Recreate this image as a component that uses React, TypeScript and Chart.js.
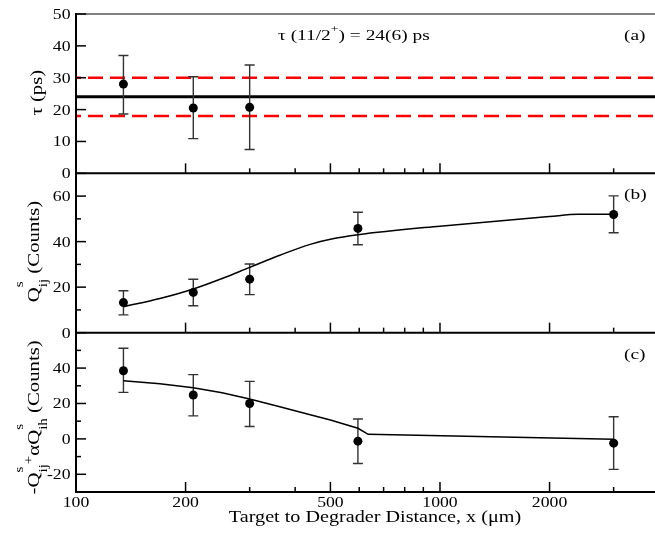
import React, { useEffect, useRef } from "react";
import { Chart, registerables } from "chart.js";

Chart.register(...registerables);

// ---------------- data ----------------
const distances = [135, 210, 300, 595, 3000];

const tauDistances = [135, 210, 300];
const tauValues = [28.0, 20.5, 20.7];
const tauLower = [18.6, 10.9, 7.5];
const tauUpper = [37.0, 30.3, 34.0];
const tauAdopted = [24];
const tauBounds = [18, 30];

const qValues = [13.2, 17.7, 23.5, 45.8, 51.9];
const qLower = [7.8, 11.8, 16.7, 38.6, 43.9];
const qUpper = [18.4, 23.5, 30.2, 52.9, 60.1];
const qFitX = [135, 170, 210, 252, 300, 363, 440, 500, 595, 1000, 2000, 2400, 3000];
const qFitY = [11.4, 15.0, 19.2, 23.8, 28.7, 34.0, 38.8, 41.0, 43.0, 46.8, 51.0, 52.0, 52.0];

const dValues = [38.5, 24.8, 20.0, -1.3, -2.4];
const dLower = [26.3, 13.0, 7.0, -13.9, -17.2];
const dUpper = [51.2, 36.3, 32.5, 11.2, 12.5];
const dFitX = [135, 170, 210, 252, 300, 363, 440, 500, 595, 635, 3000];
const dFitY = [32.9, 31.2, 28.9, 26.0, 22.5, 18.2, 13.6, 10.7, 6.0, 2.6, -0.2];

const xTicks = [100, 200, 300, 400, 500, 600, 700, 800, 900, 1000, 2000, 3000];
const xTickLabels = ["100", "200", "", "", "500", "", "", "", "", "1000", "2000", ""];
const xRange = [100, 3897];

const tauTicks = [0, 10, 20, 30, 40, 50];
const tauTickLabels = ["0", "10", "20", "30", "40", "50"];
const tauRange = [0, 50];
const qTicks = [0, 10, 20, 30, 40, 50, 60];
const qTickLabels = ["0", "", "20", "", "40", "", "60"];
const qRange = [0, 70];
const dTicks = [-20, -10, 0, 10, 20, 30, 40, 50];
const dTickLabels = ["-20", "", "0", "", "20", "", "40", ""];
const dRange = [-30, 60];

const xTitle = "Target to Degrader Distance, x (\u03bcm)";
const panelTags = ["(a)", "(b)", "(c)"];

// ---------------- drawing helpers ----------------
const FONT = "'Liberation Serif', 'Times New Roman', Times, serif";

type Run = { t: string; size?: number; dy?: number; stack?: boolean };

function drawRich(
  ctx: CanvasRenderingContext2D,
  runs: Run[],
  x: number,
  y: number,
  size: number,
  sx: number,
  align: "left" | "center" | "right",
  rot = 0
) {
  ctx.save();
  ctx.translate(x, y);
  if (rot) ctx.rotate(rot);
  ctx.scale(sx, 1);
  ctx.textBaseline = "alphabetic";
  ctx.textAlign = "left";
  ctx.fillStyle = "#000";
  const pos: number[] = [];
  let end = 0;
  let prevStart = 0;
  runs.forEach((r) => {
    ctx.font = `${r.size ?? size}px ${FONT}`;
    const w = ctx.measureText(r.t).width;
    const start = r.stack ? prevStart : end;
    pos.push(start);
    end = Math.max(end, start + w);
    prevStart = start;
  });
  const shift = align === "center" ? -end / 2 : align === "right" ? -end : 0;
  runs.forEach((r, i) => {
    ctx.font = `${r.size ?? size}px ${FONT}`;
    ctx.fillText(r.t, pos[i] + shift, r.dy ?? 0);
  });
  ctx.restore();
}

const titleA: Run[] = [{ t: "\u03c4 (ps)" }];
const titleB: Run[] = [
  { t: "Q" },
  { t: "s", size: 11.5, dy: -16 },
  { t: "ij", size: 11.5, dy: 7.5, stack: true },
  { t: " (Counts)" },
];
const titleC: Run[] = [
  { t: "-Q" },
  { t: "s", size: 11.5, dy: -16 },
  { t: "ij", size: 11.5, dy: 7.5, stack: true },
  { t: "+", size: 11.5, dy: -6 },
  { t: "\u03b1Q" },
  { t: "s", size: 11.5, dy: -16 },
  { t: "ih", size: 11.5, dy: 7.5, stack: true },
  { t: " (Counts)" },
];
const annotation: Run[] = [
  { t: "\u03c4 (11/2" },
  { t: "+", size: 11, dy: -8 },
  { t: ") = 24(6) ps" },
];

const panels = [
  { id: "ya", ticks: tauTicks, labels: tauTickLabels, title: titleA, base: 42, shift: -1 },
  { id: "yb", ticks: qTicks, labels: qTickLabels, title: titleB, base: 39, shift: -1.5 },
  { id: "yc", ticks: dTicks, labels: dTickLabels, title: titleC, base: 39, shift: 5 },
];

const framePlugin = {
  id: "frame",
  beforeDatasetsDraw(chart: any) {
    const { ctx, chartArea } = chart;
    const xs = chart.scales.x;
    const ya = chart.scales.ya;
    const yb = chart.scales.yb;
    const yc = chart.scales.yc;
    ctx.save();
    ctx.lineCap = "butt";
    // reference band of the adopted lifetime
    ctx.strokeStyle = "#ff0000";
    ctx.lineWidth = 2.5;
    ctx.setLineDash([15, 7]);
    ctx.lineDashOffset = 10;
    tauBounds.forEach((v) => {
      const y = ya.getPixelForValue(v);
      ctx.beginPath();
      ctx.moveTo(chartArea.left, y);
      ctx.lineTo(chartArea.right, y);
      ctx.stroke();
    });
    ctx.setLineDash([]);
    ctx.strokeStyle = "#000";
    ctx.lineWidth = 3;
    tauAdopted.forEach((v) => {
      const y = ya.getPixelForValue(v);
      ctx.beginPath();
      ctx.moveTo(chartArea.left, y);
      ctx.lineTo(chartArea.right, y);
      ctx.stroke();
    });
    // error bars
    ctx.strokeStyle = "#333";
    ctx.lineWidth = 1.4;
    const sets: [any, number[], number[], number[]][] = [
      [ya, tauDistances, tauLower, tauUpper],
      [yb, distances, qLower, qUpper],
      [yc, distances, dLower, dUpper],
    ];
    sets.forEach(([ys, xv, lo, hi]) => {
      xv.forEach((xx, i) => {
        const px = xs.getPixelForValue(xx);
        const y1 = ys.getPixelForValue(lo[i]);
        const y2 = ys.getPixelForValue(hi[i]);
        ctx.beginPath();
        ctx.moveTo(px, y1);
        ctx.lineTo(px, y2);
        ctx.moveTo(px - 5, y1);
        ctx.lineTo(px + 5, y1);
        ctx.moveTo(px - 5, y2);
        ctx.lineTo(px + 5, y2);
        ctx.stroke();
      });
    });
    ctx.restore();
  },
  afterDatasetsDraw(chart: any) {
    const { ctx, chartArea } = chart;
    const { left, right, top, bottom } = chartArea;
    const xs = chart.scales.x;
    ctx.save();
    ctx.setLineDash([]);
    // top border
    ctx.strokeStyle = "#808080";
    ctx.lineWidth = 2;
    ctx.beginPath();
    ctx.moveTo(left, top);
    ctx.lineTo(right, top);
    ctx.stroke();
    ctx.strokeStyle = "#000";
    panels.forEach((p, pi) => {
      const ys = chart.scales[p.id];
      // panel bottom line
      ctx.lineWidth = 2;
      ctx.beginPath();
      ctx.moveTo(left - 1, ys.bottom);
      ctx.lineTo(right, ys.bottom);
      ctx.stroke();
      // y ticks
      ctx.lineWidth = 1.5;
      p.ticks.forEach((v, i) => {
        const y = ys.getPixelForValue(v);
        const len = p.labels[i] ? 10 : 5;
        ctx.beginPath();
        ctx.moveTo(left, y);
        ctx.lineTo(left + len, y);
        ctx.stroke();
        if (p.labels[i]) {
          drawRich(ctx, [{ t: p.labels[i] }], left - 5.5, y + 5, 14.5, 1.22, "right");
        }
      });
      // x ticks along the panel bottom
      xTicks.forEach((v, i) => {
        const x = xs.getPixelForValue(v);
        const len = xTickLabels[i] ? 10 : 5;
        ctx.beginPath();
        ctx.moveTo(x, ys.bottom);
        ctx.lineTo(x, ys.bottom - len);
        ctx.stroke();
      });
      // axis title
      drawRich(ctx, p.title, p.base, (ys.top + ys.bottom) / 2 + p.shift, 16, 1.3, "center", -Math.PI / 2);
      // panel tag
      drawRich(ctx, [{ t: panelTags[pi] }], 624, ys.top + 26, 15.5, 1.25, "left");
    });
    // left axis
    ctx.lineWidth = 2;
    ctx.beginPath();
    ctx.moveTo(left, top - 1);
    ctx.lineTo(left, bottom + 1);
    ctx.stroke();
    // x tick labels
    xTicks.forEach((v, i) => {
      if (!xTickLabels[i]) return;
      drawRich(ctx, [{ t: xTickLabels[i] }], xs.getPixelForValue(v), bottom + 15, 14.5, 1.22, "center");
    });
    // x title
    drawRich(ctx, [{ t: xTitle }], (left + right) / 2 + 9.5, bottom + 30, 16, 1.26, "center");
    // annotation
    drawRich(ctx, annotation, 278, chart.scales.ya.top + 25.5, 15.5, 1.25, "left");
    ctx.restore();
  },
};

function pts(xv: number[], yv: number[]) {
  return xv.map((x, i) => ({ x, y: yv[i] }));
}

const dotStyle = {
  showLine: false,
  pointRadius: 4.5,
  pointBackgroundColor: "#000",
  pointBorderColor: "#000",
  pointBorderWidth: 0,
  borderColor: "#000",
};

const fitStyle = {
  pointRadius: 0,
  borderColor: "#000",
  borderWidth: 1.5,
  fill: false,
};

const hiddenAxis = {
  grid: { display: false, drawTicks: false },
  border: { display: false },
  ticks: { display: false },
  title: { display: false },
};

export default function App() {
  const ref = useRef<HTMLCanvasElement>(null);
  useEffect(() => {
    if (!ref.current) return;
    const chart = new Chart(ref.current, {
      type: "line",
      data: {
        datasets: [
          { ...fitStyle, data: pts(qFitX, qFitY), yAxisID: "yb", cubicInterpolationMode: "monotone" } as any,
          { ...fitStyle, data: pts(dFitX, dFitY), yAxisID: "yc", tension: 0 } as any,
          { ...dotStyle, data: pts(tauDistances, tauValues), yAxisID: "ya" } as any,
          { ...dotStyle, data: pts(distances, qValues), yAxisID: "yb" } as any,
          { ...dotStyle, data: pts(distances, dValues), yAxisID: "yc" } as any,
        ],
      },
      options: {
        animation: false,
        responsive: false,
        maintainAspectRatio: false,
        devicePixelRatio: 1,
        events: [],
        layout: { autoPadding: false, padding: { top: 14, left: 0, right: 0, bottom: 0 } },
        plugins: { legend: { display: false }, tooltip: { enabled: false } },
        scales: {
          x: {
            type: "logarithmic",
            position: "bottom",
            min: xRange[0],
            max: xRange[1],
            ...hiddenAxis,
            afterFit: (s: any) => {
              s.height = 41;
            },
          },
          yc: {
            type: "linear",
            position: "left",
            min: dRange[0],
            max: dRange[1],
            stack: "panels",
            stackWeight: 1,
            weight: 1,
            ...hiddenAxis,
            afterFit: (s: any) => {
              s.width = 76;
            },
          },
          yb: {
            type: "linear",
            position: "left",
            min: qRange[0],
            max: qRange[1],
            stack: "panels",
            stackWeight: 1,
            weight: 2,
            ...hiddenAxis,
            afterFit: (s: any) => {
              s.width = 76;
            },
          },
          ya: {
            type: "linear",
            position: "left",
            min: tauRange[0],
            max: tauRange[1],
            stack: "panels",
            stackWeight: 1,
            weight: 3,
            ...hiddenAxis,
            afterFit: (s: any) => {
              s.width = 76;
            },
          },
        } as any,
      },
      plugins: [framePlugin],
    });
    return () => chart.destroy();
  }, []);
  return (
    <div style={{ position: "absolute", left: 0, top: 0, width: 655, height: 533, background: "#fff" }}>
      <canvas ref={ref} width={655} height={533} style={{ display: "block", width: 655, height: 533 }} />
    </div>
  );
}
